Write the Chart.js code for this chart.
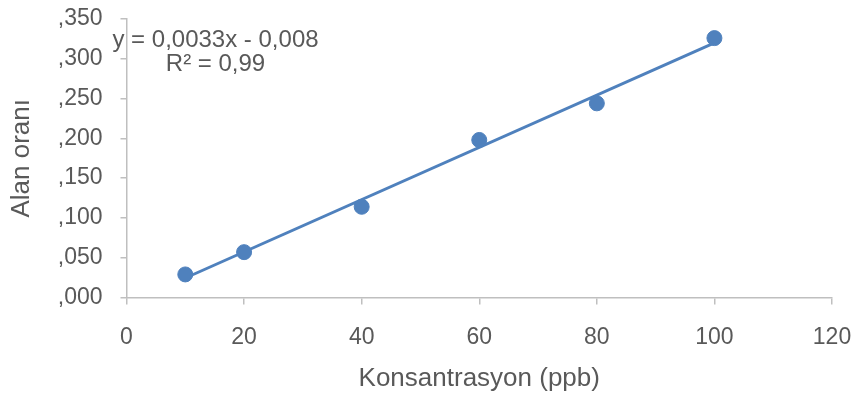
<!DOCTYPE html>
<html>
<head>
<meta charset="utf-8">
<script src="https://cdn.jsdelivr.net/npm/chart.js@4/dist/chart.umd.min.js"></script>
<style>
  html, body { margin: 0; padding: 0; background: #fff; }
  #wrap { width: 853px; height: 404px; }
</style>
</head>
<body>
<div id="wrap"><canvas id="calib"></canvas></div>
<script>
// =============== Data ===============
const concentrations = [10, 20, 40, 60, 80, 100];
const areaRatios = [0.029, 0.057, 0.114, 0.198, 0.244, 0.326];
const xTicks = [0, 20, 40, 60, 80, 100, 120];
const yTicks = [0, 0.05, 0.1, 0.15, 0.2, 0.25, 0.3, 0.35];
const equationLines = ['y = 0,0033x - 0,008', 'R² = 0,99'];

const xTitle = 'Konsantrasyon (ppb)';
const yTitle = 'Alan oranı';

// =============== Helpers ===============
function linearFit(xs, ys) {
  const n = xs.length;
  const mx = xs.reduce((a, b) => a + b, 0) / n;
  const my = ys.reduce((a, b) => a + b, 0) / n;
  let sxy = 0, sxx = 0;
  xs.forEach((x, i) => {
    sxy += (x - mx) * (ys[i] - my);
    sxx += (x - mx) * (x - mx);
  });
  const slope = sxy / sxx;
  return { slope, intercept: my - slope * mx };
}

const fit = linearFit(concentrations, areaRatios);
const xFirst = concentrations[0];
const xLast = concentrations[concentrations.length - 1];
const trendPoints = [
  { x: xFirst, y: fit.slope * xFirst + fit.intercept },
  { x: xLast, y: fit.slope * xLast + fit.intercept },
];

const BLUE = '#4f81bd';
const AXIS = '#bfbfbf';
const TEXT = '#595959';
const FONT = "'Liberation Sans', Arial, sans-serif";

// equation label in the upper-left corner of the plot
const equationPlugin = {
  id: 'equation',
  afterDatasetsDraw(chart) {
    const { ctx, chartArea } = chart;
    ctx.save();
    ctx.font = '24px ' + FONT;
    ctx.fillStyle = TEXT;
    ctx.textAlign = 'center';
    ctx.textBaseline = 'middle';
    const cx = chartArea.left + 89;
    equationLines.forEach((line, i) => {
      ctx.fillText(line, cx, chartArea.top + 21 + i * 24);
    });
    ctx.restore();
  },
};

// =============== Chart ===============
new Chart(document.getElementById('calib'), {
  type: 'scatter',
  data: {
    datasets: [
      {
        data: concentrations.map((x, i) => ({ x, y: areaRatios[i] })),
        backgroundColor: BLUE,
        borderColor: BLUE,
        pointRadius: 7.5,
        pointHoverRadius: 7.5,
        showLine: false,
      },
      {
        data: trendPoints,
        type: 'line',
        borderColor: BLUE,
        borderWidth: 3,
        pointRadius: 0,
        fill: false,
      },
    ],
  },
  options: {
    responsive: true,
    maintainAspectRatio: false,
    animation: false,
    layout: { padding: { top: 19, right: 21, bottom: 0, left: 0 } },
    plugins: {
      legend: { display: false },
      tooltip: { enabled: false },
    },
    scales: {
      x: {
        type: 'linear',
        min: xTicks[0],
        max: xTicks[xTicks.length - 1],
        afterBuildTicks(scale) {
          scale.ticks = xTicks.map((v) => ({ value: v }));
        },
        afterFit(scale) {
          scale.height = 106.5;
          scale.paddingLeft = 0;
          scale.paddingRight = 0;
        },
        border: { color: AXIS, width: 1.5 },
        grid: { drawOnChartArea: false, color: AXIS, lineWidth: 1.5, tickLength: 7 },
        ticks: {
          color: TEXT,
          font: { family: FONT, size: 23 },
          padding: 19,
          maxRotation: 0,
        },
        title: {
          display: true,
          text: xTitle,
          color: TEXT,
          font: { family: FONT, size: 26 },
          padding: { top: 0, bottom: 10 },
        },
      },
      y: {
        type: 'linear',
        min: yTicks[0],
        max: yTicks[yTicks.length - 1],
        afterBuildTicks(scale) {
          scale.ticks = yTicks.map((v) => ({ value: v }));
        },
        afterFit(scale) {
          scale.width = 126.5;
          scale.paddingTop = 0;
          scale.paddingBottom = 0;
        },
        border: { color: AXIS, width: 1.5 },
        grid: { drawOnChartArea: false, color: AXIS, lineWidth: 1.5, tickLength: 6 },
        ticks: {
          color: TEXT,
          font: { family: FONT, size: 23 },
          padding: 18,
          callback: (v) => ',' + String(Math.round(v * 1000)).padStart(3, '0'),
        },
        title: {
          display: true,
          text: yTitle,
          color: TEXT,
          font: { family: FONT, size: 26 },
          padding: { top: 6, bottom: 0 },
        },
      },
    },
  },
  plugins: [equationPlugin],
});
</script>
</body>
</html>
